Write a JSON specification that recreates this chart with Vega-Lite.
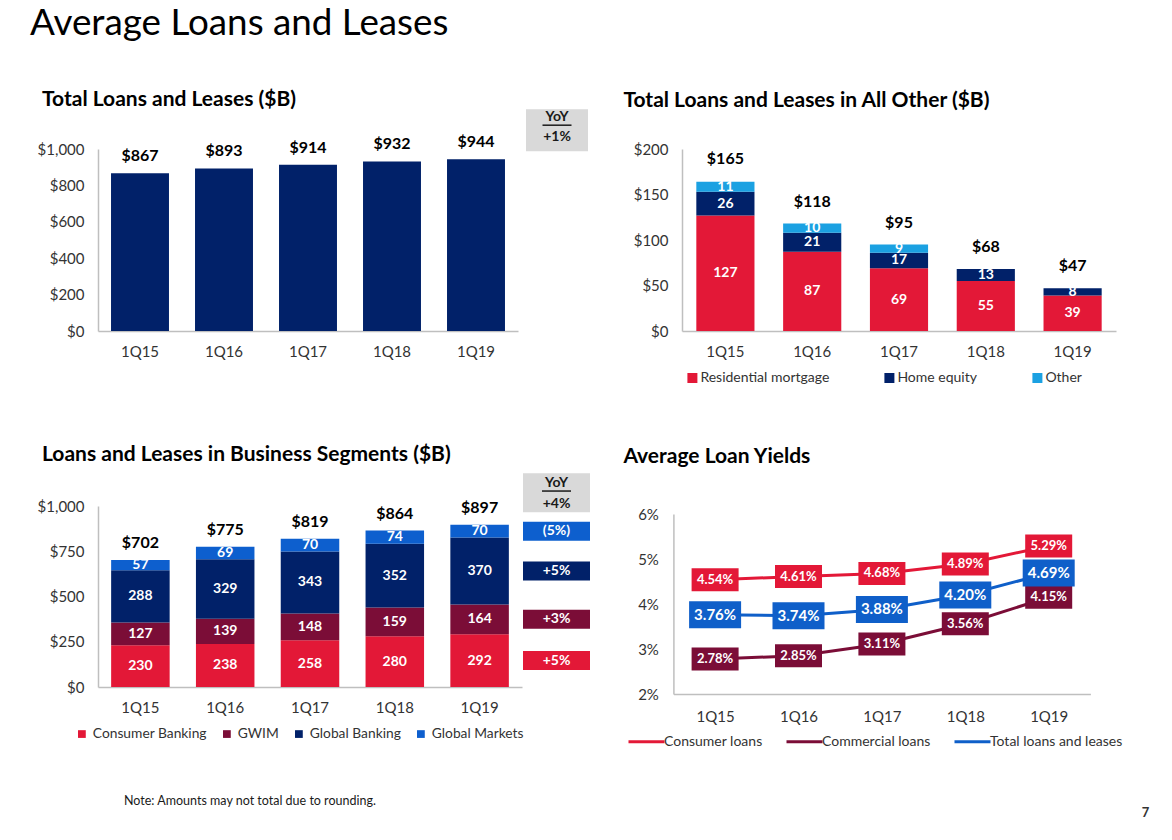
{
  "$schema": "https://vega.github.io/schema/vega-lite/v6.json",
  "padding": {"left": 30, "top": 6, "right": 5, "bottom": 2},
  "autosize": {"type": "pad"},
  "background": "white",
  "title": {"text": "Average Loans and Leases", "anchor": "start", "frame": "group", "dx": -68, "offset": 46, "fontSize": 36.8, "fontWeight": "normal", "color": "#000000", "font": "Lato"},
  "datasets": {
    "p1": [
      {"q": "1Q15", "v": 867}, {"q": "1Q16", "v": 893}, {"q": "1Q17", "v": 914}, {"q": "1Q18", "v": 932}, {"q": "1Q19", "v": 944, "yoy": "+1%"}
    ],
    "p2": [
      {"q": "1Q15", "cat": "Residential mortgage", "v": 127}, {"q": "1Q15", "cat": "Home equity", "v": 26}, {"q": "1Q15", "cat": "Other", "v": 11},
      {"q": "1Q16", "cat": "Residential mortgage", "v": 87}, {"q": "1Q16", "cat": "Home equity", "v": 21}, {"q": "1Q16", "cat": "Other", "v": 10},
      {"q": "1Q17", "cat": "Residential mortgage", "v": 69}, {"q": "1Q17", "cat": "Home equity", "v": 17}, {"q": "1Q17", "cat": "Other", "v": 9},
      {"q": "1Q18", "cat": "Residential mortgage", "v": 55}, {"q": "1Q18", "cat": "Home equity", "v": 13},
      {"q": "1Q19", "cat": "Residential mortgage", "v": 39}, {"q": "1Q19", "cat": "Home equity", "v": 8}
    ],
    "p2tot": [
      {"q": "1Q15", "tot": 165}, {"q": "1Q16", "tot": 118}, {"q": "1Q17", "tot": 95}, {"q": "1Q18", "tot": 68}, {"q": "1Q19", "tot": 47}
    ],
    "p3": [
      {"q": "1Q15", "cat": "Consumer Banking", "v": 230}, {"q": "1Q15", "cat": "GWIM", "v": 127}, {"q": "1Q15", "cat": "Global Banking", "v": 288}, {"q": "1Q15", "cat": "Global Markets", "v": 57},
      {"q": "1Q16", "cat": "Consumer Banking", "v": 238}, {"q": "1Q16", "cat": "GWIM", "v": 139}, {"q": "1Q16", "cat": "Global Banking", "v": 329}, {"q": "1Q16", "cat": "Global Markets", "v": 69},
      {"q": "1Q17", "cat": "Consumer Banking", "v": 258}, {"q": "1Q17", "cat": "GWIM", "v": 148}, {"q": "1Q17", "cat": "Global Banking", "v": 343}, {"q": "1Q17", "cat": "Global Markets", "v": 70},
      {"q": "1Q18", "cat": "Consumer Banking", "v": 280}, {"q": "1Q18", "cat": "GWIM", "v": 159}, {"q": "1Q18", "cat": "Global Banking", "v": 352}, {"q": "1Q18", "cat": "Global Markets", "v": 74},
      {"q": "1Q19", "cat": "Consumer Banking", "v": 292}, {"q": "1Q19", "cat": "GWIM", "v": 164}, {"q": "1Q19", "cat": "Global Banking", "v": 370}, {"q": "1Q19", "cat": "Global Markets", "v": 70}
    ],
    "p3tot": [
      {"q": "1Q15", "tot": 702}, {"q": "1Q16", "tot": 775}, {"q": "1Q17", "tot": 819}, {"q": "1Q18", "tot": 864}, {"q": "1Q19", "tot": 897, "yoy": "+4%"}
    ],
    "p3yoy": [
      {"cat": "Consumer Banking", "yoy": "+5%"}, {"cat": "GWIM", "yoy": "+3%"}, {"cat": "Global Banking", "yoy": "+5%"}, {"cat": "Global Markets", "yoy": "(5%)"}
    ],
    "p4": [
      {"q": "1Q15", "s": "Consumer loans", "v": 0.0454}, {"q": "1Q16", "s": "Consumer loans", "v": 0.0461}, {"q": "1Q17", "s": "Consumer loans", "v": 0.0468}, {"q": "1Q18", "s": "Consumer loans", "v": 0.0489}, {"q": "1Q19", "s": "Consumer loans", "v": 0.0529},
      {"q": "1Q15", "s": "Commercial loans", "v": 0.0278}, {"q": "1Q16", "s": "Commercial loans", "v": 0.0285}, {"q": "1Q17", "s": "Commercial loans", "v": 0.0311}, {"q": "1Q18", "s": "Commercial loans", "v": 0.0356}, {"q": "1Q19", "s": "Commercial loans", "v": 0.0415},
      {"q": "1Q15", "s": "Total loans and leases", "v": 0.0376}, {"q": "1Q16", "s": "Total loans and leases", "v": 0.0374}, {"q": "1Q17", "s": "Total loans and leases", "v": 0.0388}, {"q": "1Q18", "s": "Total loans and leases", "v": 0.0420}, {"q": "1Q19", "s": "Total loans and leases", "v": 0.0469}
    ]
  },
  "columns": 4,
  "align": "none",
  "bounds": "flush",
  "spacing": {"row": 85, "column": 8},
  "resolve": {
    "scale": {"color": "independent", "fill": "independent"},
    "legend": {"color": "independent", "fill": "independent"}
  },
  "concat": [
    {
      "width": 420, "height": 182,
      "data": {"name": "p1"},
      "title": {"text": "Total Loans and Leases ($B)", "anchor": "start", "frame": "group", "dx": -56, "offset": 24},
      "encoding": {
        "x": {"field": "q", "type": "nominal", "sort": null, "title": null, "scale": {"paddingInner": 0.31, "paddingOuter": 0.155}},
        "y": {"field": "v", "type": "quantitative", "title": null, "scale": {"domain": [0, 1000]}, "axis": {"values": [0, 200, 400, 600, 800, 1000], "format": "$,.0f"}}
      },
      "layer": [
        {"mark": {"type": "bar", "color": "#012169"}},
        {"mark": {"type": "text", "dy": -17, "fontSize": 16, "fontWeight": "bold", "color": "#000000"}, "encoding": {"text": {"field": "v", "format": "$,.0f"}}}
      ]
    },
    {
      "width": 54, "height": 182,
      "data": {"name": "p1"},
      "transform": [{"filter": "datum.q === '1Q19'"}],
      "encoding": {"y": {"field": "v", "type": "quantitative", "scale": {"domain": [0, 1000]}, "axis": null}},
      "layer": [
        {"mark": {"type": "point", "shape": "M-1,-0.677L1,-0.677L1,0.677L-1,0.677Z", "size": 3844, "filled": true, "opacity": 1, "color": "#d9d9d9", "strokeWidth": 0, "yOffset": -29}},
        {"mark": {"type": "text", "text": "YoY", "fontSize": 14, "fontWeight": "bold", "color": "#1a1a1a", "yOffset": -42}},
        {"mark": {"type": "point", "shape": "M-1,0L1,0", "size": 841, "filled": false, "opacity": 1, "color": "#1a1a1a", "strokeWidth": 1.5, "yOffset": -34}},
        {"mark": {"type": "text", "fontSize": 14, "fontWeight": "bold", "color": "#1a1a1a", "yOffset": -22}, "encoding": {"text": {"field": "yoy"}}}
      ]
    },
    {"width": 81.6, "height": 1, "data": {"values": []}, "mark": "point"},
    {
      "width": 434, "height": 182,
      "data": {"name": "p2"},
      "title": {"text": "Total Loans and Leases in All Other ($B)", "anchor": "start", "frame": "group", "dx": -58.6, "offset": 31},
      "transform": [{"calculate": "indexof(['Residential mortgage','Home equity','Other'], datum.cat)", "as": "o"}],
      "encoding": {
        "x": {"field": "q", "type": "nominal", "sort": null, "title": null, "scale": {"domain": ["1Q15", "1Q16", "1Q17", "1Q18", "1Q19"], "paddingInner": 0.33, "paddingOuter": 0.165}}
      },
      "layer": [
        {
          "mark": {"type": "bar"},
          "encoding": {
            "y": {"field": "v", "type": "quantitative", "title": null, "stack": "zero", "scale": {"domain": [0, 200]}, "axis": {"values": [0, 50, 100, 150, 200], "format": "$,.0f"}},
            "color": {"field": "cat", "type": "nominal", "scale": {"domain": ["Residential mortgage", "Home equity", "Other"], "range": ["#e31837", "#012169", "#1ba1e2"]},
              "legend": {"title": null, "orient": "none", "legendX": 3.4, "legendY": 222, "direction": "horizontal", "symbolType": "square", "symbolSize": 100, "columnPadding": 53, "labelOffset": 1}},
            "order": {"field": "o"}
          }
        },
        {
          "mark": {"type": "text", "fontSize": 14, "fontWeight": "bold", "color": "white"},
          "encoding": {
            "y": {"field": "v", "type": "quantitative", "stack": "zero", "bandPosition": 0.5},
            "detail": {"field": "cat"},
            "order": {"field": "o"},
            "text": {"field": "v"}
          }
        },
        {
          "data": {"name": "p2tot"},
          "mark": {"type": "text", "dy": -22, "fontSize": 16, "fontWeight": "bold", "color": "#000000"},
          "encoding": {"y": {"field": "tot", "type": "quantitative"}, "text": {"field": "tot", "format": "$,.0f"}}
        }
      ]
    },
    {"width": 1, "height": 5, "data": {"values": []}, "mark": "point"},
    {"width": 1, "height": 5, "data": {"values": []}, "mark": "point"},
    {"width": 1, "height": 5, "data": {"values": []}, "mark": "point"},
    {"width": 1, "height": 5, "data": {"values": []}, "mark": "point"},
    {
      "width": 424, "height": 181,
      "data": {"name": "p3"},
      "title": {"text": "Loans and Leases in Business Segments ($B)", "anchor": "start", "frame": "group", "dx": -56, "offset": 34},
      "transform": [{"calculate": "indexof(['Consumer Banking','GWIM','Global Banking','Global Markets'], datum.cat)", "as": "o"}],
      "encoding": {
        "x": {"field": "q", "type": "nominal", "sort": null, "title": null, "scale": {"domain": ["1Q15", "1Q16", "1Q17", "1Q18", "1Q19"], "paddingInner": 0.31, "paddingOuter": 0.155}}
      },
      "layer": [
        {
          "mark": {"type": "bar"},
          "encoding": {
            "y": {"field": "v", "type": "quantitative", "title": null, "stack": "zero", "scale": {"domain": [0, 1000]}, "axis": {"values": [0, 250, 500, 750, 1000], "format": "$,.0f"}},
            "color": {"field": "cat", "type": "nominal", "scale": {"domain": ["Consumer Banking", "GWIM", "Global Banking", "Global Markets"], "range": ["#e31837", "#7b0d37", "#012169", "#0d5fce"]},
              "legend": {"title": null, "orient": "none", "legendX": -23, "legendY": 221, "direction": "horizontal", "symbolType": "square", "symbolSize": 60, "columnPadding": 13, "labelOffset": 4, "labelFontSize": 13.8}},
            "order": {"field": "o"}
          }
        },
        {
          "mark": {"type": "text", "fontSize": 14, "fontWeight": "bold", "color": "white"},
          "encoding": {
            "y": {"field": "v", "type": "quantitative", "stack": "zero", "bandPosition": 0.5},
            "detail": {"field": "cat"},
            "order": {"field": "o"},
            "text": {"field": "v"}
          }
        },
        {
          "data": {"name": "p3tot"},
          "mark": {"type": "text", "dy": -17, "fontSize": 16, "fontWeight": "bold", "color": "#000000"},
          "encoding": {"y": {"field": "tot", "type": "quantitative"}, "text": {"field": "tot", "format": "$,.0f"}}
        }
      ]
    },
    {
      "width": 53, "height": 181,
      "layer": [
        {
          "data": {"name": "p3tot"},
          "transform": [{"filter": "datum.q === '1Q19'"}],
          "encoding": {"y": {"field": "tot", "type": "quantitative", "scale": {"domain": [0, 1000]}, "axis": null}},
          "layer": [
            {"mark": {"type": "point", "shape": "M-1,-0.582L1,-0.582L1,0.582L-1,0.582Z", "size": 4489, "filled": true, "opacity": 1, "color": "#d9d9d9", "strokeWidth": 0, "yOffset": -32}},
            {"mark": {"type": "text", "text": "YoY", "fontSize": 14, "fontWeight": "bold", "color": "#1a1a1a", "yOffset": -41.6}},
            {"mark": {"type": "point", "shape": "M-1,0L1,0", "size": 841, "filled": false, "opacity": 1, "color": "#1a1a1a", "strokeWidth": 1.5, "yOffset": -33.6}},
            {"mark": {"type": "text", "fontSize": 14, "fontWeight": "bold", "color": "#1a1a1a", "yOffset": -20.6}, "encoding": {"text": {"field": "yoy"}}}
          ]
        },
        {
          "data": {"name": "p3"},
          "transform": [
            {"filter": "datum.q === '1Q19'"},
            {"calculate": "indexof(['Consumer Banking','GWIM','Global Banking','Global Markets'], datum.cat)", "as": "o"},
            {"lookup": "cat", "from": {"data": {"name": "p3yoy"}, "key": "cat", "fields": ["yoy"]}}
          ],
          "encoding": {
            "y": {"field": "v", "type": "quantitative", "stack": "zero", "bandPosition": 0.5, "scale": {"domain": [0, 1000]}, "axis": null},
            "order": {"field": "o"}
          },
          "layer": [
            {"mark": {"type": "point", "shape": "M-1,-0.284L1,-0.284L1,0.284L-1,0.284Z", "size": 4489, "filled": true, "opacity": 1, "strokeWidth": 0},
              "encoding": {"color": {"field": "cat", "type": "nominal", "scale": {"domain": ["Consumer Banking", "GWIM", "Global Banking", "Global Markets"], "range": ["#e31837", "#7b0d37", "#012169", "#0d5fce"]}, "legend": null}}},
            {"mark": {"type": "text", "fontSize": 14, "fontWeight": "bold", "color": "white"},
              "encoding": {"detail": {"field": "cat"}, "text": {"field": "yoy"}}}
          ]
        }
      ]
    },
    {"width": 1, "height": 1, "data": {"values": []}, "mark": "point"},
    {
      "width": 408.4, "height": 188,
      "data": {"name": "p4"},
      "title": {"text": "Average Loan Yields", "anchor": "start", "frame": "group", "dx": -58.6, "offset": 39},
      "encoding": {
        "x": {"field": "q", "type": "ordinal", "sort": null, "title": null, "scale": {"type": "point", "padding": 0.5, "range": [-8.6, 408.4]}, "axis": {"labelPadding": 15}},
        "y": {"field": "v", "type": "quantitative", "title": null, "scale": {"domain": [0.02, 0.06], "range": [188, 8]}, "axis": {"values": [0.02, 0.03, 0.04, 0.05, 0.06], "format": ".0%", "labelPadding": 15, "offset": 8.6}}
      },
      "layer": [
        {"mark": {"type": "line", "strokeWidth": 3},
          "encoding": {"color": {"field": "s", "type": "nominal", "scale": {"domain": ["Consumer loans", "Commercial loans", "Total loans and leases"], "range": ["#e31837", "#7b0d37", "#0f5fc9"]},
            "legend": {"title": null, "orient": "none", "legendX": -55, "legendY": 216, "direction": "horizontal", "symbolType": "stroke", "symbolSize": 1296, "symbolStrokeWidth": 3, "columnPadding": 17, "labelOffset": -2}}}},
        {"transform": [{"filter": "datum.s !== 'Total loans and leases'"}],
          "mark": {"type": "point", "shape": "M-1,-0.49L1,-0.49L1,0.49L-1,0.49Z", "size": 2209, "filled": true, "opacity": 1, "strokeWidth": 0},
          "encoding": {"fill": {"field": "s", "type": "nominal", "scale": {"domain": ["Consumer loans", "Commercial loans", "Total loans and leases"], "range": ["#e31837", "#7b0d37", "#0f5fc9"]}, "legend": null}}},
        {"transform": [{"filter": "datum.s === 'Total loans and leases'"}],
          "mark": {"type": "point", "shape": "M-1,-0.52L1,-0.52L1,0.52L-1,0.52Z", "size": 2704, "filled": true, "opacity": 1, "strokeWidth": 0},
          "encoding": {"fill": {"field": "s", "type": "nominal", "legend": null}}},
        {"transform": [{"filter": "datum.s !== 'Total loans and leases'"}],
          "mark": {"type": "text", "fontSize": 13, "fontWeight": "bold", "color": "white"},
          "encoding": {"text": {"field": "v", "format": ".2%"}}},
        {"transform": [{"filter": "datum.s === 'Total loans and leases'"}],
          "mark": {"type": "text", "fontSize": 15, "fontWeight": "bold", "color": "white"},
          "encoding": {"text": {"field": "v", "format": ".2%"}}}
      ]
    },
    {"width": 52, "height": 44, "data": {"values": [{"t": "Note: Amounts may not total due to rounding."}]}, "mark": {"type": "text", "align": "left", "fontSize": 12.5, "color": "#1a1a1a"}, "encoding": {"text": {"field": "t"}}},
    {"width": 1, "height": 1, "data": {"values": []}, "mark": "point"},
    {"width": 1, "height": 1, "data": {"values": []}, "mark": "point"},
    {"width": 434, "height": 44, "data": {"values": [{"t": "7"}]}, "mark": {"type": "text", "dx": 246.4, "dy": 12, "fontSize": 13, "fontWeight": "bold", "color": "#333333"}, "encoding": {"text": {"field": "t"}}}
  ],
  "config": {
    "font": "Lato",
    "view": {"stroke": null},
    "title": {"font": "Lato", "fontSize": 21, "fontWeight": "bold", "color": "#000000"},
    "axis": {"ticks": false, "grid": false, "domainColor": "#bfbfbf", "domainWidth": 1.5, "labelFont": "Lato", "labelFontSize": 15, "labelColor": "#333333", "labelPadding": 14},
    "axisX": {"labelAngle": 0, "labelPadding": 13},
    "legend": {"padding": 0, "labelFont": "Lato", "labelFontSize": 14, "labelColor": "#333333"},
    "text": {"font": "Lato"}
  }
}
